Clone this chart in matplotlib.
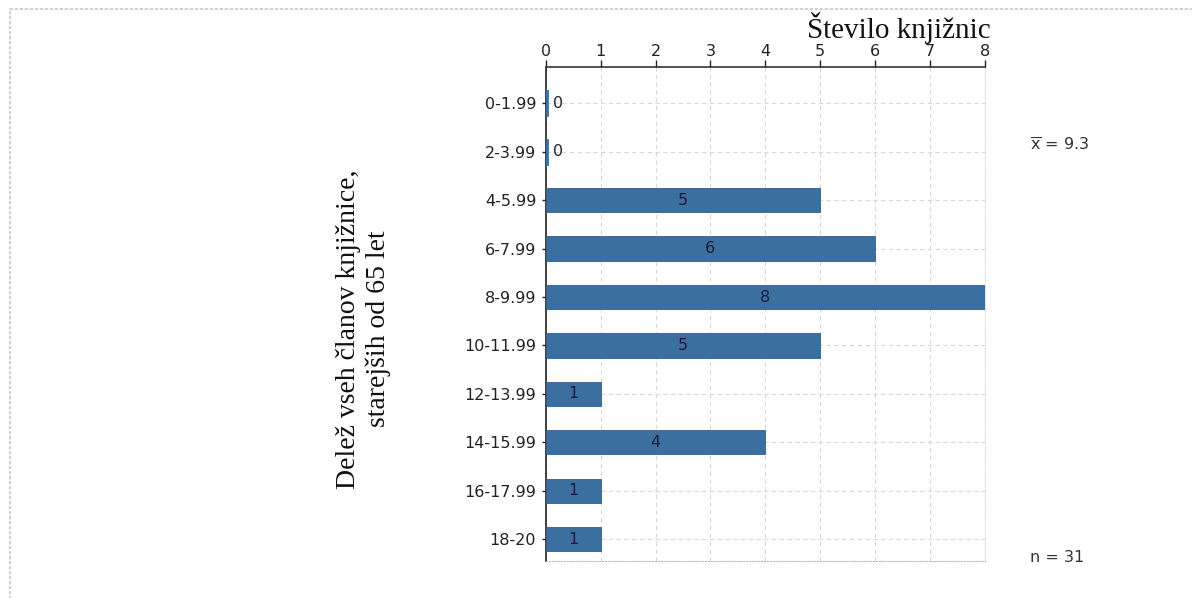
import matplotlib

matplotlib.use("Agg")
import matplotlib.pyplot as plt  # noqa: E402
from matplotlib.patches import Rectangle  # noqa: E402

# Podatki (odčitani s slike)
razredi = ["0-1.99", "2-3.99", "4-5.99", "6-7.99", "8-9.99",
           "10-11.99", "12-13.99", "14-15.99", "16-17.99", "18-20"]
st_knjiznic = [0, 0, 5, 6, 8, 5, 1, 4, 1, 1]
povprecje = 9.3
n_vseh = 31

BARVA = "#3b6f9f"
VEL = 11.5  # velikost pisave oznak

fig = plt.figure(figsize=(11.92, 5.98), dpi=100)
ax = fig.add_axes([0.458, 0.062, 0.368, 0.826])

pozicije = list(range(len(razredi)))
ax.barh(pozicije, st_knjiznic, height=0.5, color=BARVA,
        edgecolor="#2f5f8f", linewidth=0.6, zorder=3)
# tanka modra črta za ničelne vrednosti
for p, v in zip(pozicije, st_knjiznic):
    if v == 0:
        ax.plot([0.02, 0.02], [p - 0.25, p + 0.25], color=BARVA, lw=2, zorder=4)
        ax.text(0.12, p, "0", va="center", ha="left", fontsize=VEL,
                color="#222233", zorder=5)
    else:
        ax.text(v / 2, p, str(v), va="center", ha="center", fontsize=VEL,
                color="#1c1c3a", zorder=5)

ax.set_xlim(0, 8)
ax.set_ylim(9.45, -0.75)
ax.set_xticks(range(9))
ax.set_yticks(pozicije)
ax.set_yticklabels(razredi)
ax.xaxis.tick_top()
ax.tick_params(axis="x", direction="out", length=5, width=1, pad=0.5,
               labelsize=VEL, colors="#222222")
ax.tick_params(axis="y", direction="out", length=3, width=1, pad=4,
               labelsize=VEL, colors="#222222")

ax.grid(True, linestyle=(0, (4, 3)), color="#d8d8d8", linewidth=0.8, zorder=0)
ax.set_axisbelow(True)

ax.spines["left"].set_color("#222222")
ax.spines["left"].set_linewidth(1.2)
ax.spines["top"].set_color("#333333")
ax.spines["top"].set_linewidth(1.2)
ax.spines["bottom"].set_color("#bbbbbb")
ax.spines["bottom"].set_linestyle(":")
ax.spines["right"].set_color("#dddddd")
ax.spines["right"].set_linestyle(":")

# Naslovi
fig.text(0.831, 0.953, "Število knjižnic", ha="right", va="center",
         fontsize=21, family="Liberation Serif", color="#111111")
fig.text(0.305, 0.45, "Delež vseh članov knjižnice,\nstarejših od 65 let",
         ha="center", va="center", rotation=90, fontsize=20,
         family="Liberation Serif", color="#111111", linespacing=1.2)

fig.text(0.864, 0.756, r"$\overline{\mathrm{x}}$" + f" = {povprecje}",
         ha="left", va="center", fontsize=VEL, color="#333333")
fig.text(0.864, 0.068, f"n = {n_vseh}", ha="left", va="center",
         fontsize=VEL, color="#333333")

# okvir okoli slike
fig.patches.append(Rectangle((10 / 1192, -0.1), 1.2, 1 - 9 / 598 + 0.1,
                             transform=fig.transFigure, fill=False,
                             edgecolor="#c8c8c8", linewidth=1.2,
                             linestyle=(0, (2, 1))))

fig.savefig("out.png", dpi=100)
